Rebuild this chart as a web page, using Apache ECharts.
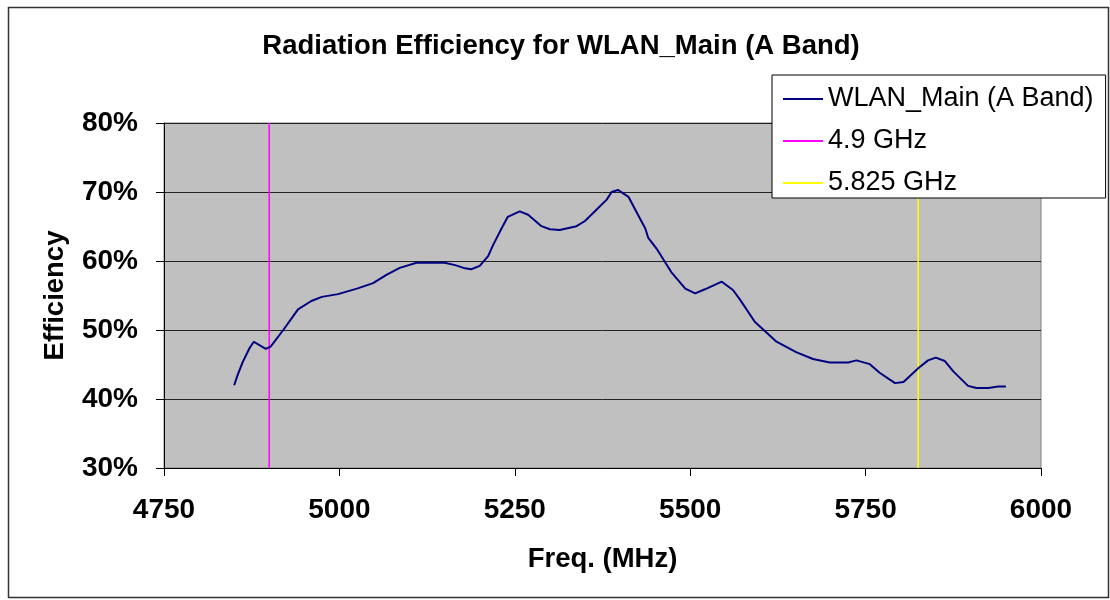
<!DOCTYPE html>
<html>
<head>
<meta charset="utf-8">
<script src="https://cdn.jsdelivr.net/npm/echarts@6/dist/echarts.min.js"></script>
<style>
  html, body { margin: 0; padding: 0; background: #fff; }
  #chart { width: 1110px; height: 600px; }
</style>
</head>
<body>
<div id="chart"></div>
<script>
// measured curve, MHz vs efficiency (%)
const freq = [4850, 4855, 4862, 4872, 4878, 4886, 4895, 4902, 4920, 4941, 4960, 4975, 4998,
  5025, 5048, 5067, 5086, 5110, 5150, 5165, 5177, 5188, 5200, 5212, 5219, 5229, 5240, 5257,
  5269, 5288, 5300, 5314, 5338, 5350, 5366, 5381, 5388, 5397, 5412, 5424, 5436, 5440, 5452,
  5473, 5493, 5507, 5521, 5545, 5561, 5571, 5592, 5623, 5651, 5675, 5699, 5725, 5737, 5756,
  5770, 5792, 5804, 5825, 5839, 5850, 5863, 5875, 5896, 5908, 5925, 5939, 5950];
const eff = [42.0, 43.5, 45.3, 47.4, 48.3, 47.8, 47.25, 47.6, 50.0, 53.0, 54.2, 54.8, 55.2,
  56.0, 56.8, 58.0, 59.0, 59.75, 59.75, 59.4, 59.0, 58.8, 59.3, 60.7, 62.3, 64.3, 66.4, 67.2,
  66.7, 65.05, 64.6, 64.5, 65.05, 65.8, 67.4, 68.9, 70.0, 70.3, 69.3, 67.0, 64.7, 63.4, 61.8,
  58.4, 56.0, 55.3, 55.9, 57.0, 55.8, 54.4, 51.2, 48.3, 46.8, 45.8, 45.3, 45.3, 45.6, 45.05,
  43.8, 42.3, 42.45, 44.45, 45.6, 46.0, 45.5, 44.0, 41.9, 41.6, 41.6, 41.8, 41.8];

const markerNames = ['4.9 GHz', '5.825 GHz'];
const markerFreq = [4900, 5825];
const effRange = [30, 80];

const font = 'Liberation Sans, Arial, sans-serif';
const chart = echarts.init(document.getElementById('chart'), null, { renderer: 'canvas' });

chart.setOption({
  animation: false,
  backgroundColor: '#fff',
  title: {
    text: 'Radiation Efficiency for WLAN_Main (A Band)',
    left: 556, top: 27, textAlign: 'center',
    textStyle: { fontFamily: font, fontSize: 27.5, fontWeight: 'bold', color: '#000' }
  },
  legend: {
    orient: 'vertical', left: 772, top: 75,
    padding: [10, 12, 1, 11],
    icon: 'rect', itemWidth: 40, itemHeight: 2, itemGap: 14,
    backgroundColor: '#fff', borderColor: '#000', borderWidth: 1, borderRadius: 0,
    textStyle: { fontFamily: font, fontSize: 27, lineHeight: 28, color: '#000' },
    data: ['WLAN_Main (A Band)', ...markerNames]
  },
  grid: {
    left: 164, right: 69, top: 123, bottom: 132,
    show: true, backgroundColor: '#c0c0c0', borderColor: '#808080', borderWidth: 1
  },
  xAxis: {
    type: 'value', min: 4750, max: 6000, interval: 250,
    name: 'Freq. (MHz)', nameLocation: 'middle', nameGap: 77,
    nameTextStyle: { fontFamily: font, fontSize: 27.5, fontWeight: 'bold', color: '#000' },
    axisLine: { lineStyle: { color: '#000', width: 1 } },
    axisTick: { length: 8, lineStyle: { color: '#000' } },
    axisLabel: { margin: 28, formatter: v => String(v), fontFamily: font, fontSize: 28, fontWeight: 'bold', color: '#000' },
    splitLine: { show: false }
  },
  yAxis: {
    type: 'value', min: 30, max: 80, interval: 10,
    name: 'Efficiency', nameLocation: 'middle', nameGap: 95, nameRotate: 90,
    nameTextStyle: { fontFamily: font, fontSize: 27.5, fontWeight: 'bold', color: '#000' },
    axisLine: { show: true, lineStyle: { color: '#000', width: 1 } },
    axisTick: { show: true, length: 8, lineStyle: { color: '#000' } },
    axisLabel: { margin: 26, formatter: '{value}%', fontFamily: font, fontSize: 28, fontWeight: 'bold', color: '#000' },
    splitLine: { show: true, lineStyle: { color: '#222', width: 1 } }
  },
  graphic: [{
    type: 'rect', silent: true, z: -1,
    shape: { x: 8.5, y: 7.5, width: 1100, height: 590 },
    style: { fill: 'none', stroke: '#333', lineWidth: 1.5 }
  }],
  series: [
    {
      name: 'WLAN_Main (A Band)', type: 'line', symbol: 'none', smooth: false,
      lineStyle: { color: '#000080', width: 2 }, itemStyle: { color: '#000080' },
      data: freq.map((f, i) => [f, eff[i]]), z: 3
    },
    {
      name: markerNames[0], type: 'line', symbol: 'none',
      lineStyle: { color: '#ff00ff', width: 1.5 }, itemStyle: { color: '#ff00ff' },
      data: effRange.map(v => [markerFreq[0], v]), z: 2
    },
    {
      name: markerNames[1], type: 'line', symbol: 'none',
      lineStyle: { color: '#ffff00', width: 1.5 }, itemStyle: { color: '#ffff00' },
      data: effRange.map(v => [markerFreq[1], v]), z: 2
    }
  ]
});
</script>
</body>
</html>
